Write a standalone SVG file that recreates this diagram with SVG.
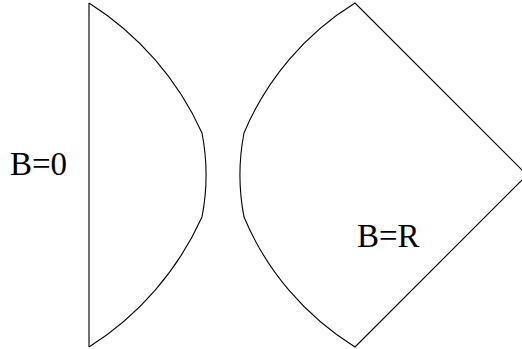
<svg xmlns="http://www.w3.org/2000/svg" width="522" height="349" viewBox="0 0 522 349">
<defs>
<style>
.s{fill:none;stroke:#000;stroke-width:1.1;stroke-linejoin:miter}
</style>
</defs>
<rect width="522" height="349" fill="#fff"/>
<g id="left-region">
<line x1="89" y1="3" x2="89" y2="347" stroke="#333" stroke-width="1.4"/>
<path class="s" d="M89,3 A300,300 0 0 1 202,133 A220,220 0 0 1 202,217 A300,300 0 0 1 89,347"/>
<text x="10" y="175" font-size="33" font-family="Liberation Serif">B=0</text>
</g>
<g id="right-region">
<path class="s" d="M355,3 A280,280 0 0 0 244,133 A220,220 0 0 0 244,217 A280,280 0 0 0 355,347 L527,175 Z"/>
<text x="357" y="247" font-size="33" font-family="Liberation Serif">B=R</text>
</g>
</svg>
